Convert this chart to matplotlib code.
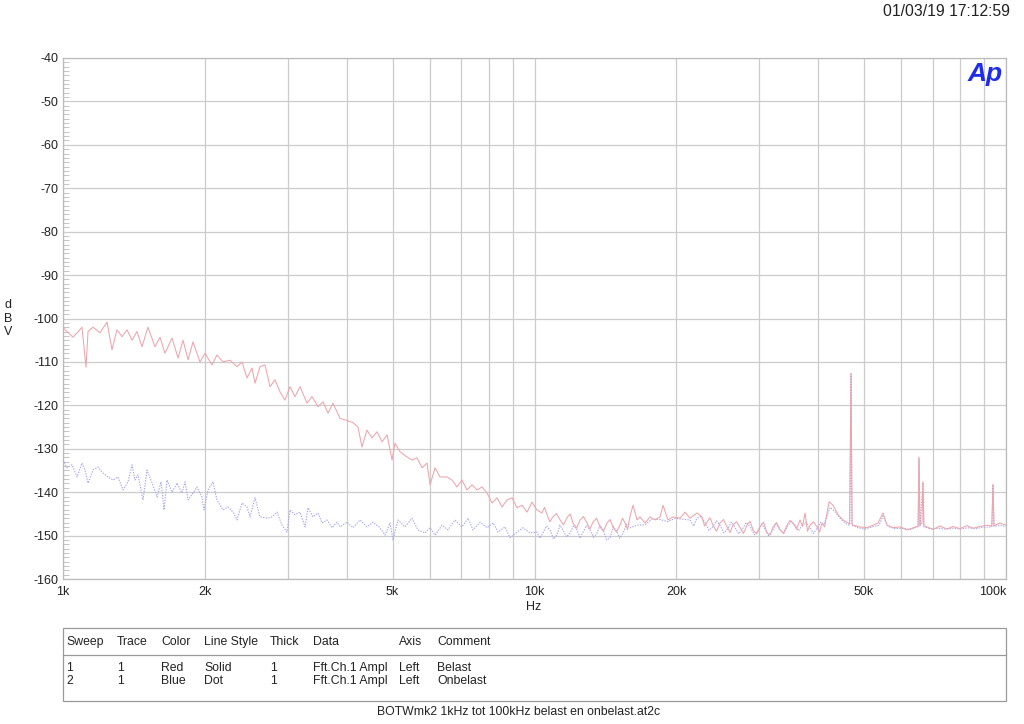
import matplotlib
matplotlib.use("Agg")
import matplotlib.pyplot as plt
from matplotlib.ticker import FixedLocator, NullFormatter, MultipleLocator
from matplotlib.lines import Line2D
from matplotlib.patches import Rectangle

plt.rcParams['font.family'] = ['Liberation Sans', 'DejaVu Sans']

# ---------------- data (Hz, dBV) ----------------
red_freq = [1000, 1010, 1050, 1076, 1097, 1119, 1130, 1158, 1198, 1240, 1270, 1302, 1334, 1367, 1401,
            1435, 1471, 1514, 1567, 1606, 1645, 1703, 1754, 1797, 1842, 1887, 1952, 2001, 2070, 2121,
            2184, 2261, 2339, 2397, 2456, 2517, 2554, 2617, 2682, 2748, 2816, 2886, 2957, 3030, 3105,
            3182, 3292, 3374, 3474, 3560, 3648, 3738, 3868, 4003, 4122, 4223, 4306, 4412, 4522, 4634,
            4750, 4868, 4988, 5060, 5185, 5365, 5498, 5634, 5774, 5916, 6004, 6152, 6305, 6523, 6683,
            6849, 7019, 7192, 7370, 7553, 7740, 7932, 8128, 8329, 8535, 8746, 8962, 9183, 9409, 9641,
            9879, 10120, 10370, 10630, 10940, 11330, 11720, 12070, 12490, 12920, 13310, 13770, 14250,
            14670, 15180, 15560, 15940, 16180, 16500, 16740, 17160, 17580, 18010, 18460, 18730, 19190,
            19670, 20350, 20860, 21370, 22110, 22660, 23220, 23910, 24740, 25610, 26360, 27290, 28230,
            29070, 30080, 31130, 32060, 33170, 34320, 35340, 36580, 37480, 38410, 39740, 40730, 41730,
            42140, 42970, 44030, 45110, 46230, 46600, 46920, 47150, 47380, 49020, 50730, 52240, 53530,
            54850, 55930, 57600, 59610, 61660, 63490, 65100, 65380, 65700, 66340, 66650, 66980, 67980,
            70010, 72440, 74980, 77200, 79880, 82670, 85110, 88090, 91140, 93300, 93850, 94300, 94750,
            97120, 100000]
red_db = [-102.0, -102.6, -104.3, -103.1, -102.0, -111.2, -103.0, -102.0, -103.3, -100.8, -107.2, -102.6,
          -104.2, -102.6, -105.0, -103.0, -106.5, -102.0, -106.5, -104.3, -108.0, -104.5, -109.1, -105.0,
          -109.5, -105.4, -110.0, -108.0, -110.7, -108.4, -110.0, -109.6, -111.1, -110.0, -113.7, -111.4,
          -114.9, -111.1, -110.7, -115.7, -114.1, -116.9, -118.8, -115.7, -118.0, -115.7, -119.5, -118.0,
          -120.3, -119.2, -121.8, -119.5, -123.0, -123.5, -124.0, -125.0, -129.6, -125.7, -127.5, -126.1,
          -128.4, -126.8, -132.6, -128.7, -130.7, -131.9, -132.6, -132.1, -134.4, -133.3, -138.3, -134.4,
          -136.5, -136.5, -137.2, -138.8, -137.2, -139.5, -138.3, -139.5, -138.8, -140.2, -142.5, -141.3,
          -143.4, -141.8, -141.3, -143.6, -143.0, -144.6, -142.3, -144.1, -144.8, -145.2, -145.7, -146.4,
          -145.9, -147.1, -146.4, -147.1, -146.9, -148.0, -147.1, -148.0, -147.6, -147.1, -145.7, -143.0,
          -146.4, -145.7, -147.1, -145.7, -146.4, -145.7, -143.0, -146.4, -145.7, -146.0, -144.6, -146.0,
          -144.8, -145.7, -146.9, -147.6, -147.1, -148.0, -147.6, -148.2, -147.6, -148.7, -148.0, -149.4,
          -148.0, -148.7, -147.6, -147.1, -146.4, -144.8, -147.6, -148.0, -147.1, -144.8, -142.2, -143.0,
          -145.2, -146.4, -147.1, -147.3, -112.6, -147.4, -147.6, -148.0, -148.2, -147.6, -147.1, -144.8,
          -147.6, -148.2, -148.0, -148.7, -148.2, -147.8, -131.9, -147.5, -147.1, -137.6, -147.8, -148.0,
          -148.6, -147.8, -148.5, -147.9, -148.4, -147.7, -148.3, -147.9, -147.6, -147.8, -138.1, -147.7,
          -147.6, -147.1, -147.6]
# extra readings of the red noise floor between the main points
red_freq_extra = [10500, 10780, 11130, 11520, 11900, 12280, 12700, 13110, 13540, 14000, 14460, 14920,
                  15370, 15750, 22940, 23560, 24320, 25170, 25980, 26820, 27750, 28650, 29570, 30600,
                  31590, 32610, 33740, 34830, 35960, 37020, 37940, 39070, 40230, 41230]
red_db_extra = [-143.5, -146.8, -144.9, -147.5, -145.0, -148.3, -145.6, -148.5, -146.0, -149.0, -146.3,
                -149.2, -146.0, -148.6, -147.8, -145.9, -149.0, -146.3, -149.3, -146.8, -149.5, -146.7,
                -149.6, -146.9, -149.9, -147.0, -149.5, -146.5, -148.5, -147.9, -149.0, -146.8, -149.2,
                -148.0]

blue_freq = [1000, 1020, 1045, 1071, 1097, 1113, 1130, 1158, 1186, 1216, 1246, 1277, 1308, 1341, 1374,
             1401, 1421, 1442, 1478, 1507, 1545, 1583, 1614, 1638, 1662, 1703, 1745, 1788, 1815, 1842,
             1887, 1923, 1971, 1991, 2030, 2080, 2121, 2184, 2238, 2294, 2339, 2397, 2456, 2493, 2554,
             2617, 2709, 2775, 2844, 2914, 2986, 3030, 3105, 3182, 3261, 3308, 3390, 3474, 3543, 3631,
             3721, 3812, 3868, 4003, 4122, 4264, 4412, 4544, 4702, 4819, 4938, 5011, 5135, 5312, 5498,
             5662, 5859, 6004, 6152, 6366, 6555, 6783, 7019, 7227, 7407, 7664, 7932, 8166, 8370, 8660,
             8873, 9183, 9454, 9783, 10120, 10420, 10790, 11160, 11490, 11890, 12310, 12680, 13120,
             13570, 13980, 14460, 14960, 15410, 15940, 16500, 17160, 17750, 18460, 19190, 19860, 20550,
             21370, 22110, 23000, 23910, 24740, 25730, 26600, 27570, 28700, 29800, 30800, 31900, 33170,
             34320, 35660, 36900, 38410, 39740, 41100, 42350, 43400, 44460, 45790, 46600, 46920, 47150,
             48500, 50240, 51980, 53790, 54850, 56200, 58200, 60500, 62600, 65100, 65380, 65700, 66650,
             66980, 69000, 71750, 74250, 77200, 79880, 83070, 85900, 89300, 93300, 93850, 94300, 97120,
             100000]
blue_db = [-132.6, -134.4, -133.7, -136.5, -133.3, -134.9, -137.9, -134.9, -134.2, -135.6, -136.5, -137.2,
           -136.5, -139.5, -137.6, -133.7, -137.2, -136.0, -141.8, -134.9, -137.9, -141.1, -137.6, -144.1,
           -137.2, -140.0, -137.9, -140.2, -137.6, -141.8, -140.2, -138.8, -141.1, -144.1, -139.5, -137.6,
           -141.8, -144.1, -143.4, -144.6, -146.4, -142.5, -143.4, -145.7, -141.3, -145.7, -146.0, -145.7,
           -144.6, -147.6, -149.2, -144.1, -145.2, -144.6, -148.0, -143.6, -145.7, -144.8, -147.1, -146.4,
           -148.2, -146.9, -148.0, -146.9, -148.2, -146.4, -148.0, -146.9, -148.2, -149.9, -147.1, -151.0,
           -146.4, -148.0, -146.0, -148.7, -149.4, -148.2, -149.9, -147.6, -148.7, -146.4, -148.0, -146.0,
           -148.7, -146.9, -148.2, -147.1, -149.2, -148.0, -150.5, -149.2, -148.2, -149.4, -149.2, -149.4,
           -148.7, -149.9, -148.7, -149.4, -148.7, -149.2, -148.7, -149.4, -148.7, -150.5, -149.2, -149.4,
           -148.2, -147.6, -147.5, -146.2, -146.3, -146.8, -146.0, -146.2, -146.4, -146.0, -147.0, -147.9,
           -147.6, -148.3, -148.0, -148.6, -148.1, -149.0, -148.4, -149.0, -148.5, -148.0, -147.4, -147.8,
           -148.2, -148.3, -147.5, -143.5, -144.5, -146.0, -147.3, -147.6, -112.8, -147.6, -148.2, -148.5,
           -148.0, -147.6, -145.5, -147.9, -148.4, -148.3, -148.6, -148.0, -132.2, -147.8, -137.8, -148.0,
           -148.4, -148.3, -148.5, -148.3, -148.5, -148.2, -148.4, -148.1, -148.0, -138.3, -147.9, -147.6,
           -147.9]
# extra readings of the blue noise floor between the main points
blue_freq_extra = [10270, 10600, 10970, 11320, 11690, 12100, 12490, 12900, 13340, 13770, 14220, 14710,
                   15180, 15670, 21740, 22550, 23450, 24320, 25230, 26160, 27080, 28130, 29250, 30300,
                   31350, 32530, 33740, 34990, 36280, 37650, 39070, 40420]
blue_db_extra = [-150.6, -147.8, -150.8, -147.6, -150.3, -147.8, -150.6, -147.7, -150.4, -147.6, -151.0,
                 -147.9, -150.6, -147.4, -147.8, -145.6, -148.8, -146.6, -149.4, -146.9, -149.6, -147.0,
                 -149.8, -147.3, -150.0, -147.4, -149.6, -146.8, -148.9, -146.9, -149.5, -147.0]

y_ticks = [-40, -50, -60, -70, -80, -90, -100, -110, -120, -130, -140, -150, -160]
x_tick_vals = [1000, 2000, 5000, 10000, 20000, 50000, 100000]
x_tick_labels = ["1k", "2k", "5k", "10k", "20k", "50k", "100k"]
x_grid_vals = [1000, 2000, 3000, 4000, 5000, 6000, 7000, 8000, 9000, 10000, 20000, 30000,
               40000, 50000, 60000, 70000, 80000, 90000, 100000]

table_header = ["Sweep", "Trace", "Color", "Line Style", "Thick", "Data", "Axis", "Comment"]
table_rows = [["1", "1", "Red", "Solid", "1", "Fft.Ch.1 Ampl", "Left", "Belast"],
              ["2", "1", "Blue", "Dot", "1", "Fft.Ch.1 Ampl", "Left", "Onbelast"]]
timestamp = "01/03/19 17:12:59"
footer = "BOTWmk2 1kHz tot 100kHz belast en onbelast.at2c"


def merged(f_main, v_main, f_extra, v_extra):
    pairs = sorted(zip(list(f_main) + list(f_extra), list(v_main) + list(v_extra)))
    return [p[0] for p in pairs], [p[1] for p in pairs]


red_f, red_v = merged(red_freq, red_db, red_freq_extra, red_db_extra)
blue_f, blue_v = merged(blue_freq, blue_db, blue_freq_extra, blue_db_extra)

# ---------------- figure ----------------
W, H = 1024, 724
fig = plt.figure(figsize=(W / 100, H / 100), dpi=100)
fig.patch.set_facecolor("white")


def fx(px):
    return px / W


def fy(py):
    return 1 - py / H


ax = fig.add_axes([fx(63), fy(579), fx(1006) - fx(63), fy(58) - fy(579)])
ax.set_xscale("log")
ax.set_xlim(1000, 100000)
ax.set_ylim(-160, -40)

gridc = "#cccccc"
for g in x_grid_vals:
    ax.axvline(g, color=gridc, lw=0.9, zorder=0)
for g in y_ticks:
    ax.axhline(g, color=gridc, lw=0.9, zorder=0)

ax.plot(blue_f, blue_v, color="#a4a4ec", lw=0.8, ls=(0, (1.2, 1.2)), zorder=3)
ax.plot(red_f, red_v, color="#eea4ac", lw=0.75, zorder=4)

ax.xaxis.set_major_locator(FixedLocator(x_tick_vals))
ax.set_xticklabels(x_tick_labels)
ax.xaxis.set_minor_locator(FixedLocator([]))
ax.xaxis.set_minor_formatter(NullFormatter())
ax.set_yticks(y_ticks)
ax.set_yticklabels([str(v) for v in y_ticks])
ax.yaxis.set_minor_locator(MultipleLocator(1))
ax.tick_params(axis="x", which="major", length=0, pad=5, labelsize=9, colors="#222222")
ax.tick_params(axis="y", which="major", length=0, pad=3, labelsize=9, colors="#222222")
ax.tick_params(axis="y", which="minor", direction="in", length=4, width=0.6, color="#bbbbbb")
labs = ax.get_xticklabels()
labs[-1].set_horizontalalignment("right")
labs[-1].set_x(1.0)
for s in ax.spines.values():
    s.set_color("#bbbbbb")
    s.set_linewidth(0.9)

# axis labels
for i, ch in enumerate("dBV"):
    fig.text(fx(8), fy(305 + i * 13.5), ch, fontsize=9, ha="center", va="center", color="#222222")
fig.text(fx(534), fy(607), "Hz", fontsize=9, ha="center", va="center", color="#222222")

# logo & timestamp
fig.text(fx(985), fy(74), "Ap", fontsize=19, fontweight="bold", fontstyle="italic",
         color="#1f2de8", ha="center", va="center")
fig.text(fx(1010), fy(11), timestamp, fontsize=11.3, ha="right", va="center", color="#222222")

# legend table
fig.add_artist(Rectangle((fx(63), fy(701)), fx(1006) - fx(63), fy(628) - fy(701),
                         transform=fig.transFigure, fill=False, ec="#999999", lw=0.9))
fig.add_artist(Line2D([fx(63), fx(1006)], [fy(655), fy(655)], transform=fig.transFigure,
                      color="#999999", lw=0.9))
col_x = [66, 117, 161, 204, 270, 313, 399, 437]
for cx, t in zip(col_x, table_header):
    fig.text(fx(cx), fy(642), t, fontsize=8.8, ha="left", va="center", color="#222222")
for r, row in enumerate(table_rows):
    for cx, t in zip(col_x, row):
        fig.text(fx(cx), fy(668 + r * 13), t, fontsize=8.8, ha="left", va="center", color="#222222")
fig.text(fx(519), fy(712), footer, fontsize=8.8, ha="center", va="center", color="#222222")

fig.savefig("out.png", dpi=100, facecolor="white")
